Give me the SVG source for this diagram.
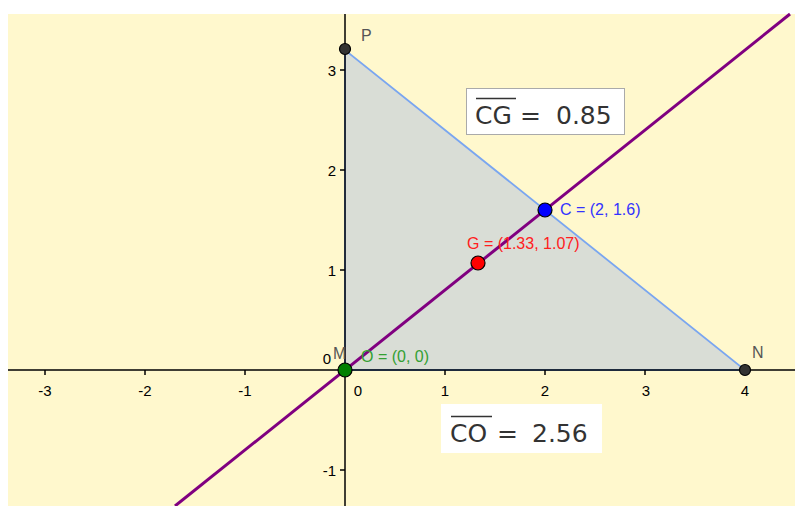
<svg xmlns="http://www.w3.org/2000/svg" width="795" height="506" viewBox="0 0 795 506">
<style>
.ax{stroke:#000;stroke-width:1.5;fill:none}
.tk{stroke:#000;stroke-width:1.5}
.lbl{font-family:"Liberation Sans",Arial,sans-serif;font-size:15px;fill:#000}
.pl{font-family:"Liberation Sans",Arial,sans-serif;font-size:16px;fill:#555}
.box{fill:#fff}
.big{font-family:"DejaVu Sans","Liberation Sans",sans-serif;font-size:25px;fill:#333}
.pt{stroke:#000;stroke-width:1.2}
</style>
<rect x="0" y="0" width="795" height="506" fill="#fff"/>
<rect x="8" y="14" width="787" height="492" fill="#fff8cd"/>
<g id="triangle">
<polygon points="345,370 745,370 345,50" fill="#d9ddd6" stroke="#7aa6f0" stroke-width="1.8"/>
</g>
<g id="axes">
<line class="ax" x1="8" y1="370" x2="795" y2="370"/>
<line class="ax" x1="345" y1="14" x2="345" y2="506"/>
<g class="tk">
<line x1="45" y1="370" x2="45" y2="375"/>
<line x1="145" y1="370" x2="145" y2="375"/>
<line x1="245" y1="370" x2="245" y2="375"/>
<line x1="445" y1="370" x2="445" y2="375"/>
<line x1="545" y1="370" x2="545" y2="375"/>
<line x1="645" y1="370" x2="645" y2="375"/>
<line x1="745" y1="370" x2="745" y2="375"/>
<line x1="340" y1="70" x2="345" y2="70"/>
<line x1="340" y1="170" x2="345" y2="170"/>
<line x1="340" y1="270" x2="345" y2="270"/>
<line x1="340" y1="470" x2="345" y2="470"/>
</g>
<g class="lbl" text-anchor="middle">
<text x="45" y="396">-3</text>
<text x="145" y="396">-2</text>
<text x="245" y="396">-1</text>
<text x="358" y="396">0</text>
<text x="445" y="396">1</text>
<text x="545" y="396">2</text>
<text x="646" y="396">3</text>
<text x="745" y="396">4</text>
</g>
<g class="lbl" text-anchor="end">
<text x="336" y="76">3</text>
<text x="336" y="176">2</text>
<text x="336" y="276">1</text>
<text x="336" y="476">-1</text>
<text x="331" y="364">0</text>
</g>
</g>
<g id="connectors">
<line x1="175" y1="506" x2="790" y2="14" stroke="#800080" stroke-width="3"/>
</g>
<g id="P">
<circle class="pt" cx="345" cy="49" r="5.5" fill="#333"/>
<text class="pl" x="361" y="41">P</text>
</g>
<g id="N">
<circle class="pt" cx="745" cy="370" r="5.5" fill="#333"/>
<text class="pl" x="752" y="358">N</text>
</g>
<g id="M">
<text class="pl" x="333" y="359">M</text>
<circle class="pt" cx="345" cy="370" r="7" fill="#008000"/>
<text x="361" y="362" font-family="Liberation Sans,Arial,sans-serif" font-size="16" fill="#33a033">O = (0, 0)</text>
</g>
<g id="C">
<circle class="pt" cx="545" cy="210" r="7" fill="#0000ff"/>
<text x="560" y="215" font-family="Liberation Sans,Arial,sans-serif" font-size="16" fill="#3333ff">C = (2, 1.6)</text>
</g>
<g id="G">
<circle class="pt" cx="478" cy="263" r="7" fill="#ff0000"/>
<text x="467" y="249" font-family="Liberation Sans,Arial,sans-serif" font-size="16" fill="#ff2020">G = (1.33, 1.07)</text>
</g>
<g id="CG">
<rect class="box" x="466.5" y="88.5" width="158" height="46" stroke="#aaa" stroke-width="1"/>
<text class="big" x="475" y="124">CG</text>
<line x1="476" y1="98.5" x2="516" y2="98.5" stroke="#333" stroke-width="1.5"/>
<text class="big" x="520" y="124" textLength="21" lengthAdjust="spacingAndGlyphs">=</text>
<text class="big" x="556" y="124">0.85</text>
</g>
<g id="CO">
<rect class="box" x="441" y="404" width="161" height="49"/>
<text class="big" x="450" y="442">CO</text>
<line x1="451" y1="416.5" x2="492" y2="416.5" stroke="#333" stroke-width="1.5"/>
<text class="big" x="497" y="442" textLength="21" lengthAdjust="spacingAndGlyphs">=</text>
<text class="big" x="532" y="442">2.56</text>
</g>
</svg>
